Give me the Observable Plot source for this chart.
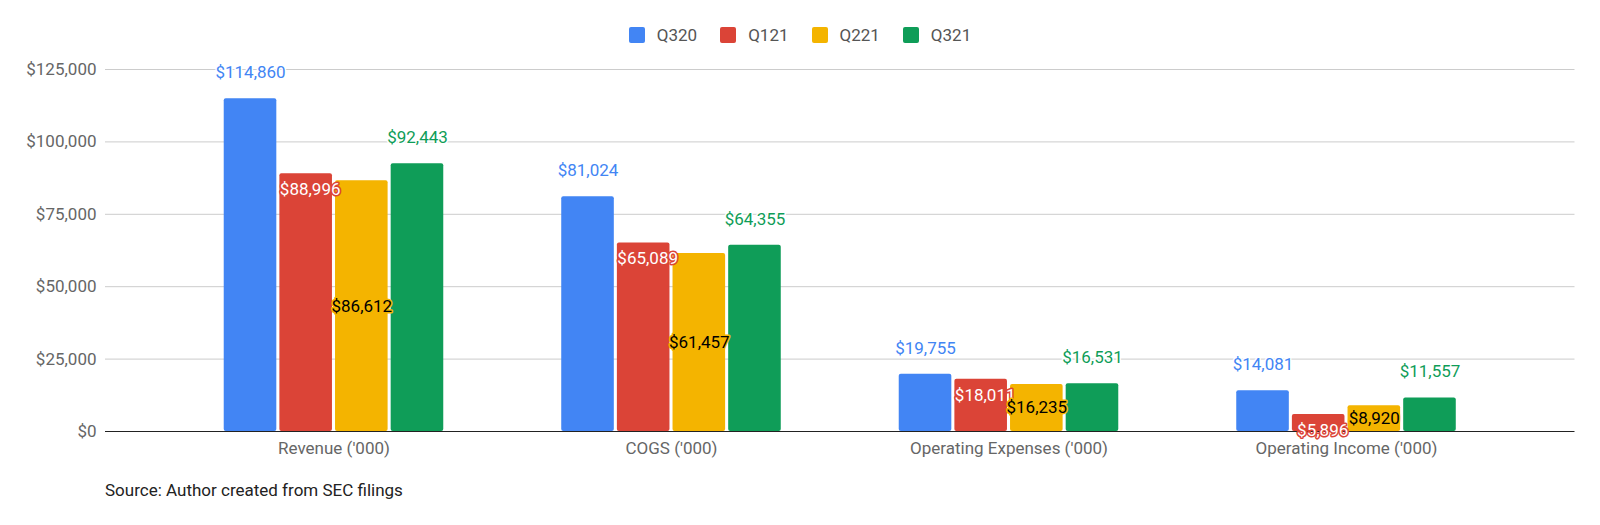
<!DOCTYPE html>
<html><head><meta charset="utf-8">
<script src="https://cdn.jsdelivr.net/npm/d3@7"></script>
<script src="https://cdn.jsdelivr.net/npm/@observablehq/plot@0.6"></script>
<style>
html,body{margin:0;background:#fff;font-family:Roboto,sans-serif;overflow:hidden;width:1600px;}
#legend{height:55px;display:flex;justify-content:center;align-items:center;font-size:17px;color:#555;padding-top:14px;box-sizing:border-box;}
#legend .it{display:flex;align-items:center;margin:0 11.5px}
#legend .sw{width:16px;height:16px;border-radius:2px;margin-right:12px}
#chart{position:relative;width:1600px;height:411px}
#chart svg{position:absolute;left:0;top:0;max-width:none}
#cap{font-size:17px;color:#222;padding-left:105px;padding-top:14px}
</style></head>
<body>
<div id="legend"></div>
<div id="chart"></div>
<div id="cap">Source: Author created from SEC filings</div>
<script>
const categories = ["Revenue ('000)", "COGS ('000)", "Operating Expenses ('000)", "Operating Income ('000)"];
const series = ["Q320", "Q121", "Q221", "Q321"];
const Q320 = [114860, 81024, 19755, 14081];
const Q121 = [88996, 65089, 18011, 5896];
const Q221 = [86612, 61457, 16235, 8920];
const Q321 = [92443, 64355, 16531, 11557];
const yTicks = [0, 25000, 50000, 75000, 100000, 125000];
const colors = ["#4285F4", "#DB4437", "#F4B400", "#0F9D58"];

const valuesBySeries = {Q320, Q121, Q221, Q321};
const data = [];
categories.forEach((c, i) => series.forEach(s => data.push({category: c, series: s, value: valuesBySeries[s][i]})));

const fmt = d => "$" + d3.format(",")(d);

const legend = document.getElementById("legend");
series.forEach((s, i) => {
  const it = document.createElement("div"); it.className = "it";
  it.innerHTML = `<div class="sw" style="background:${colors[i]}"></div><span>${s}</span>`;
  legend.appendChild(it);
});

const common = {
  width: 1600, height: 411,
  marginLeft: 105, marginRight: 25.5, marginTop: 14, marginBottom: 35,
  style: {fontFamily: "Roboto, sans-serif", fontSize: "17px", background: "transparent"}
};

// background layer: grid, baseline and y axis
const grid = Plot.plot({
  ...common,
  y: {domain: [0, 125000]},
  marks: [
    Plot.ruleY(yTicks.slice(1), {stroke: "#cccccc", strokeWidth: 1}),
    Plot.ruleY([0], {stroke: "#222", strokeWidth: 1}),
    Plot.axisY({ticks: yTicks, tickFormat: fmt, tickSize: 0, tickPadding: 9, fill: "#666", fontSize: 17, label: null})
  ]
});

// foreground layer: grouped bars and labels
const bars = Plot.plot({
  ...common,
  fx: {domain: categories, paddingInner: 0, paddingOuter: 0.177, round: false, label: null},
  x: {domain: series, paddingInner: 0.055, paddingOuter: 1.06, round: false, axis: null},
  y: {domain: [0, 125000], axis: null},
  color: {domain: series, range: colors},
  marks: [
    Plot.barY(data, {fx: "category", x: "series", y: "value", fill: "series", rx: 2}),
    Plot.axisFx({anchor: "bottom", tickSize: 0, tickPadding: 10, fill: "#666", fontSize: 17, label: null}),
    Plot.text(data.filter(d => d.series === "Q320" || d.series === "Q321"), {fx: "category", x: "series", y: "value", text: d => fmt(d.value), dy: -26, fill: "series", stroke: "white", strokeWidth: 3, fontSize: 17}),
    Plot.text(data.filter(d => d.series === "Q121"), {fx: "category", x: "series", y: "value", text: d => fmt(d.value), dy: 16, dx: 4, fill: "white", stroke: "#DB4437", strokeWidth: 3, fontSize: 17}),
    Plot.text(data.filter(d => d.series === "Q221"), {fx: "category", x: "series", y: d => d.value / 2, text: d => fmt(d.value), fill: "black", stroke: "#F4B400", strokeWidth: 3, fontSize: 17})
  ]
});

const chart = document.getElementById("chart");
chart.appendChild(grid);
chart.appendChild(bars);
</script>
</body></html>
